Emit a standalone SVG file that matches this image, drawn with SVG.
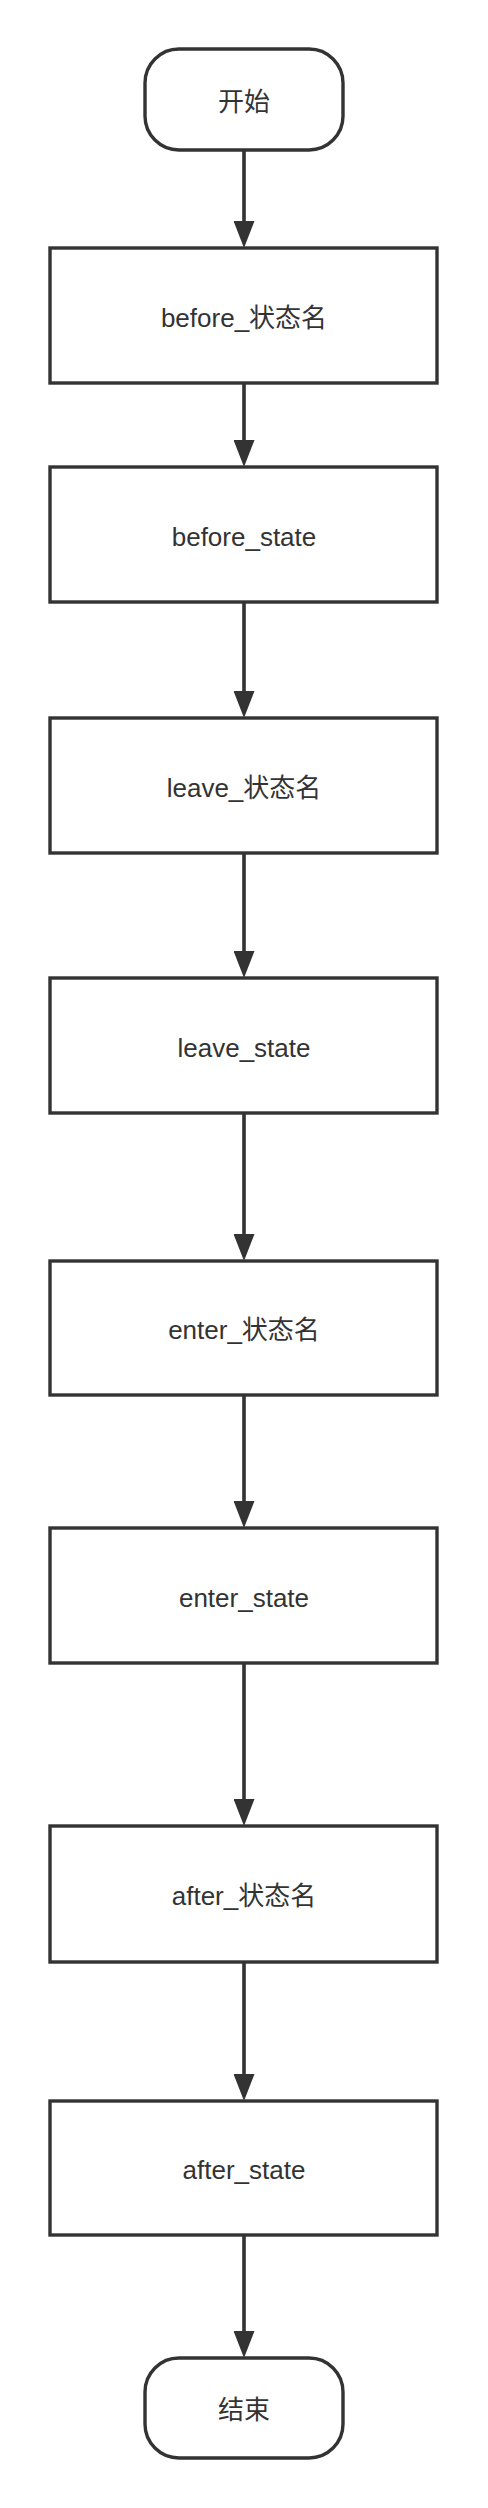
<svg xmlns="http://www.w3.org/2000/svg" width="488" height="2508" viewBox="0 0 488 2508">
<style>
.box{fill:#ffffff;stroke:#333333;stroke-width:3.4}
.lbl{font-family:"Liberation Sans","Noto Sans CJK SC",sans-serif;font-size:26px;fill:#333333;text-anchor:middle}
.conn{stroke:#333333;stroke-width:3.6;fill:none}
</style>
<defs>
<marker id="arr" markerUnits="userSpaceOnUse" viewBox="0 0 27 21" refX="7" refY="10.5" markerWidth="27" markerHeight="21" orient="auto">
<path d="M0,0 L27,10.5 L0,21 z" fill="#333333"/>
</marker>
</defs>
<rect width="488" height="2508" fill="#ffffff"/>
<g id="connectors">
<line class="conn" x1="244" y1="150" x2="244" y2="228" marker-end="url(#arr)"/>
<line class="conn" x1="244" y1="383" x2="244" y2="447" marker-end="url(#arr)"/>
<line class="conn" x1="244" y1="602" x2="244" y2="698" marker-end="url(#arr)"/>
<line class="conn" x1="244" y1="853" x2="244" y2="958" marker-end="url(#arr)"/>
<line class="conn" x1="244" y1="1113" x2="244" y2="1241" marker-end="url(#arr)"/>
<line class="conn" x1="244" y1="1395" x2="244" y2="1508" marker-end="url(#arr)"/>
<line class="conn" x1="244" y1="1663" x2="244" y2="1806" marker-end="url(#arr)"/>
<line class="conn" x1="244" y1="1962" x2="244" y2="2081" marker-end="url(#arr)"/>
<line class="conn" x1="244" y1="2235" x2="244" y2="2338" marker-end="url(#arr)"/>
</g>
<g id="start">
<rect class="box" x="145" y="49" width="198" height="101" rx="34" ry="34"/>
<text class="lbl" x="244" y="111">开始</text>
</g>
<g id="before_name">
<rect class="box" x="50" y="248" width="387" height="135"/>
<text class="lbl" x="244" y="327">before_状态名</text>
</g>
<g id="before_state">
<rect class="box" x="50" y="467" width="387" height="135"/>
<text class="lbl" x="244" y="546">before_state</text>
</g>
<g id="leave_name">
<rect class="box" x="50" y="718" width="387" height="135"/>
<text class="lbl" x="244" y="797">leave_状态名</text>
</g>
<g id="leave_state">
<rect class="box" x="50" y="978" width="387" height="135"/>
<text class="lbl" x="244" y="1057">leave_state</text>
</g>
<g id="enter_name">
<rect class="box" x="50" y="1261" width="387" height="134"/>
<text class="lbl" x="244" y="1339">enter_状态名</text>
</g>
<g id="enter_state">
<rect class="box" x="50" y="1528" width="387" height="135"/>
<text class="lbl" x="244" y="1607">enter_state</text>
</g>
<g id="after_name">
<rect class="box" x="50" y="1826" width="387" height="136"/>
<text class="lbl" x="244" y="1905">after_状态名</text>
</g>
<g id="after_state">
<rect class="box" x="50" y="2101" width="387" height="134"/>
<text class="lbl" x="244" y="2179">after_state</text>
</g>
<g id="end">
<rect class="box" x="145" y="2358" width="198" height="100" rx="34" ry="34"/>
<text class="lbl" x="244" y="2419">结束</text>
</g>
</svg>
